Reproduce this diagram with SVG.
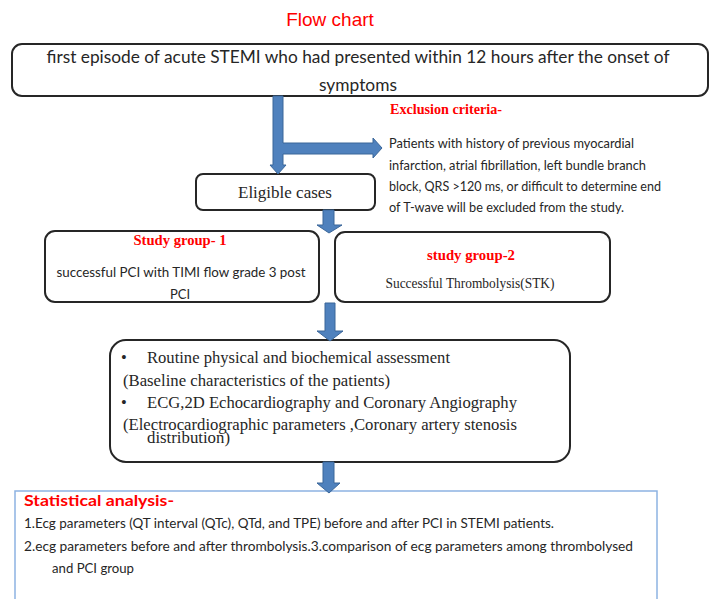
<svg xmlns="http://www.w3.org/2000/svg" width="713" height="599" viewBox="0 0 713 599">
<style>
.box{fill:#fff;stroke:#262626;stroke-width:2}
.sbox{fill:#fff;stroke:#8db3e2;stroke-width:1.5}
.arr{fill:#4f81bd;stroke:#3a6699;stroke-width:1}
.cal{font-family:Lato,"Liberation Sans",sans-serif;fill:#262626}
.tms{font-family:"Liberation Serif",serif;fill:#262626}
.redb{font-family:"Liberation Serif",serif;fill:#ff0000;font-weight:bold}
.redt{font-family:"Liberation Sans",sans-serif;fill:#ff0000}
</style>
<rect width="713" height="599" fill="#fff"/>
<g id="title"><text class="redt" x="330" y="26" font-size="19" text-anchor="middle">Flow chart</text></g>
<g id="n-start">
<rect class="box" x="12" y="44" width="696" height="52" rx="10"/>
<text class="cal" x="358" y="63" font-size="17" text-anchor="middle" textLength="623" lengthAdjust="spacingAndGlyphs">first episode of acute STEMI who had presented within 12 hours after the onset of</text>
<text class="cal" x="358" y="91" font-size="17" text-anchor="middle" textLength="78" lengthAdjust="spacingAndGlyphs">symptoms</text>
</g>
<g id="n-exclusion">
<text class="redb" x="390" y="114" font-size="14" textLength="112" lengthAdjust="spacingAndGlyphs">Exclusion criteria-</text>
<text class="cal" font-size="12.5">
<tspan x="389" y="148" textLength="245" lengthAdjust="spacingAndGlyphs">Patients with history of previous myocardial</tspan>
<tspan x="389" y="170" textLength="257" lengthAdjust="spacingAndGlyphs">infarction, atrial fibrillation, left bundle branch</tspan>
<tspan x="389" y="191" textLength="272" lengthAdjust="spacingAndGlyphs">block, QRS &gt;120 ms, or difficult to determine end</tspan>
<tspan x="389" y="212" textLength="235" lengthAdjust="spacingAndGlyphs">of T-wave will be excluded from the study.</tspan>
</text>
</g>
<g id="n-eligible">
<rect class="box" x="196" y="174" width="179" height="36" rx="7"/>
<text class="tms" x="285" y="198" font-size="17" text-anchor="middle">Eligible cases</text>
</g>
<g id="n-group1">
<rect class="box" x="45" y="231" width="274" height="71" rx="10"/>
<text class="redb" x="180" y="245" font-size="14" text-anchor="middle" textLength="93" lengthAdjust="spacingAndGlyphs">Study group- 1</text>
<text class="cal" x="181" y="277" font-size="13" text-anchor="middle" textLength="249" lengthAdjust="spacingAndGlyphs">successful PCI with TIMI flow grade 3 post</text>
<text class="cal" x="180" y="299" font-size="13" text-anchor="middle">PCI</text>
</g>
<g id="n-group2">
<rect class="box" x="335" y="232" width="275" height="70" rx="10"/>
<text class="redb" x="471" y="260" font-size="14" text-anchor="middle" textLength="88" lengthAdjust="spacingAndGlyphs">study group-2</text>
<text class="tms" x="470" y="288" font-size="14.5" text-anchor="middle" textLength="169" lengthAdjust="spacingAndGlyphs">Successful Thrombolysis(STK)</text>
</g>
<g id="n-assessment">
<rect class="box" x="110" y="340" width="460" height="122" rx="16"/>
<text class="tms" font-size="16.5">
<tspan x="121" y="363">•</tspan>
<tspan x="147" y="363" textLength="303" lengthAdjust="spacingAndGlyphs">Routine physical and biochemical assessment</tspan>
<tspan x="123" y="386" textLength="267" lengthAdjust="spacingAndGlyphs">(Baseline characteristics of the patients)</tspan>
<tspan x="121" y="408">•</tspan>
<tspan x="147" y="408" textLength="370" lengthAdjust="spacingAndGlyphs">ECG,2D Echocardiography and Coronary Angiography</tspan>
<tspan x="123" y="430" textLength="394" lengthAdjust="spacingAndGlyphs">(Electrocardiographic parameters ,Coronary artery stenosis</tspan>
<tspan x="147" y="443" textLength="83" lengthAdjust="spacingAndGlyphs">distribution)</tspan>
</text>
</g>
<g id="n-stats">
<rect class="sbox" x="15" y="491" width="642" height="120"/>
<text x="24" y="506" font-family="Lato,'Liberation Sans',sans-serif" font-weight="bold" font-size="15" fill="#ff0000" textLength="150" lengthAdjust="spacingAndGlyphs">Statistical analysis-</text>
<text class="cal" font-size="13">
<tspan x="24" y="528" textLength="530" lengthAdjust="spacingAndGlyphs">1.Ecg parameters (QT interval (QTc), QTd, and TPE) before and after PCI in STEMI patients.</tspan>
<tspan x="24" y="551" textLength="609" lengthAdjust="spacingAndGlyphs">2.ecg parameters before and after thrombolysis.3.comparison  of ecg parameters among thrombolysed</tspan>
<tspan x="52" y="573" textLength="82" lengthAdjust="spacingAndGlyphs">and PCI group</tspan>
</text>
</g>
<g id="connectors">
<path class="arr" d="M273,96 H283 V143 H373 V138 L382,148 L373,158 V154 H283 V165 H286 L278,174 L270,165 H273 Z"/>
<path class="arr" d="M323,210 H334 V225 H342 L329,233 L317,225 H323 Z"/>
<path class="arr" d="M325,303 H335 V331 H343 L330,341 L317,331 H325 Z"/>
<path class="arr" d="M323,462 H334 V483 H340 L329,493 L317,483 H323 Z"/>
</g>
</svg>
